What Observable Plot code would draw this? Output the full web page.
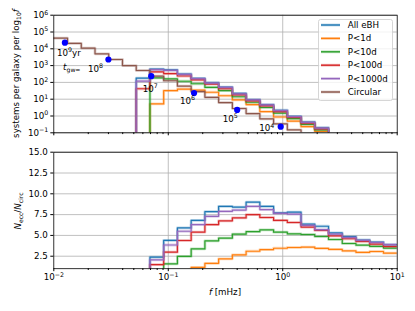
<!DOCTYPE html>
<html><head><meta charset="utf-8">
<script src="https://cdn.jsdelivr.net/npm/d3@7"></script>
<script src="https://cdn.jsdelivr.net/npm/@observablehq/plot@0.6"></script>
<style>
body{margin:0;background:#fff;font-family:"DejaVu Sans",sans-serif;}
#wrap{position:relative;width:415px;height:311px;overflow:hidden;}
#top,#bot,#legend{position:absolute;left:0;}
#top{top:0}
#bot{top:140px}
#legend{left:318px;top:19px;}
</style></head><body>
<div id="wrap"><div id="top"></div><div id="bot"></div><div id="legend"></div></div>
<script>
// ---- data ----
const series = ["All eBH","P<1d","P<10d","P<100d","P<1000d","Circular"];
const colors = ["#1f77b4","#ff7f0e","#2ca02c","#d62728","#9467bd","#8c564b"];
// 25 log bins of 0.12 dex from 1e-2 to 1e1 mHz (0 = empty bin)
const logFmin = -2, binDex = 0.12, nBins = 25;
// top panel: systems per galaxy per log10 f
const topAll   = [0,0,0,0,0,0,178,617,550,316,174,95,52,22,9.5,4.8,2.2,0.95,0.44,0.2,0.04,0,0,0,0];
const top1d    = [0,0,0,0,0,0,0,5.2,32,40,35,26,16,9.1,4.8,1.8,0.87,0.5,0.23,0.12,0.03,0,0,0,0];
const top10d   = [0,0,0,0,0,0,0,186,162,117,83,50,32,14,6.6,3.2,1.5,0.69,0.32,0.15,0.035,0,0,0,0];
const top100d  = [0,0,0,0,0,0,42,420,330,240,140,79,42,18,7.9,4.0,1.8,0.83,0.38,0.17,0.04,0,0,0,0];
const top1000d = [0,0,0,0,0,0,120,575,525,300,166,91,50,21,9.1,4.6,2.1,0.91,0.42,0.19,0.04,0,0,0,0];
const topCirc  = [4.3e4,2.1e4,1.1e4,5.0e3,2.3e3,1.0e3,510,234,125,60,28,13,6.3,2.8,1.4,0.68,0.34,0.15,0.07,0,0,0,0,0,0];
// bottom panel: N_ecc / N_circ
const ratAll   = [0,0,0,0,0,0,0,2.4,4.4,5.9,6.8,7.85,8.5,8.4,9.0,8.5,7.7,7.8,6.35,6.1,5.3,4.85,4.45,4.2,3.9];
const rat1d    = [0,0,0,0,0,0,0,0,0,0,1.15,1.65,2.19,2.67,3.1,3.3,3.46,3.55,3.59,3.45,3.33,3.15,2.95,3.07,2.87];
const rat10d   = [0,0,0,0,0,0,0,0.8,1.58,2.47,3.38,4.35,4.67,5.15,5.45,5.67,5.39,5.19,5.11,4.87,4.51,4.03,3.83,3.68,3.48];
const rat100d  = [0,0,0,0,0,0,0,1.5,2.98,4.39,5.39,6.3,6.75,7.1,7.5,7.15,6.8,6.55,6.0,5.6,4.95,4.6,4.27,3.95,3.67];
const rat1000d = [0,0,0,0,0,0,0,2.06,3.85,5.5,6.3,7.3,7.9,8.05,8.5,8.1,7.65,7.55,6.2,5.7,5.15,4.75,4.4,4.15,3.9];
// gravitational-wave time markers
const tgwLabels = ["10⁹yr","10⁸","10⁷","10⁶","10⁵","10⁴"];
const tgwF = [0.0125,0.030,0.071,0.168,0.40,0.96];
const tgwN = [2.3e4,2.3e3,234,23,2.3,0.23];
// ticks
const xMajor = [1e-2,1e-1,1,10];
const yTopTicks = [1e-1,1,10,100,1e3,1e4,1e5,1e6];
const yBotTicks = [2.5,5,7.5,10,12.5,15];

// ---- helpers ----
const edges = d3.range(nBins+1).map(k => 10 ** (logFmin + binDex*k));
const xMinor = [1e-2,1e-1,1].flatMap(d => d3.range(2,10).map(k => k*d));
const supMap = {"-":"⁻","0":"⁰","1":"¹","2":"²","3":"³","4":"⁴","5":"⁵","6":"⁶","7":"⁷","8":"⁸","9":"⁹"};
const unsup = {}; Object.entries(supMap).forEach(([k,v]) => unsup[v] = (k === "-" ? "−" : k));
const sup = d => "10" + String(Math.round(Math.log10(d))).split("").map(c => supMap[c]).join("");
function steps(vals, floor){
  return vals.flatMap((v,k) => {const y = Math.max(v, floor); return [{x:edges[k], y},{x:edges[k+1], y}];});
}
function stepMarks(list, floor){
  return list.flatMap(([vals, c]) => [
    Plot.line(steps(vals, floor), {x:"x", y:"y", stroke:c, strokeWidth:2.8, strokeOpacity:0.3, clip:true}),
    Plot.line(steps(vals, floor), {x:"x", y:"y", stroke:c, strokeWidth:1.2, clip:true})
  ]);
}
const gridStyle = {stroke:"#b0b0b0", strokeOpacity:1, strokeWidth:0.8};
const FS = 8.7;
const labelOffsets = [[4,10],[-13,9.3],[-1,12.6],[-6.5,8],[-7,9],[-14,1.7]];

// ---- top panel ----
const topSeries = [[topAll,colors[0]],[top1d,colors[1]],[top10d,colors[2]],[top100d,colors[3]],[top1000d,colors[4]],[topCirc,colors[5]]];
const tgw = tgwF.map((f,i) => ({f, n:tgwN[i], label:tgwLabels[i]}));
const topPlot = Plot.plot({
  width:415, height:140,
  marginLeft:53.3, marginRight:18.3, marginTop:14.7, marginBottom:7.7,
  style:{fontFamily:"DejaVu Sans", fontSize:FS+"px", color:"#000", background:"transparent"},
  x:{type:"log", domain:[1e-2,10]},
  y:{type:"log", domain:[1e-1,1e6]},
  marks:[
    Plot.gridY(yTopTicks, gridStyle),
    Plot.gridX([1e-1,1], gridStyle),
    ...stepMarks(topSeries, 1e-3),
    Plot.dot(tgw, {x:"f", y:"n", r:3.1, fill:"#0000ff"}),
    ...tgw.map((d,i) => Plot.text([d], {x:"f", y:"n", text:"label", dx:labelOffsets[i][0], dy:labelOffsets[i][1], fontSize:FS, fill:"#000"})),
    Plot.frame({stroke:"#000", strokeWidth:0.8}),
    Plot.axisY({ticks:yTopTicks, tickFormat:sup, tickSize:3, tickPadding:2.5, label:null}),
    Plot.axisX({ticks:xMajor, tickFormat:() => "", tickSize:3, label:null}),
    Plot.axisX({ticks:xMinor, tickFormat:() => "", tickSize:1.8, label:null})
  ]
});
document.getElementById("top").append(topPlot);

// ---- bottom panel ----
const botSeries = [[ratAll,colors[0]],[rat1d,colors[1]],[rat10d,colors[2]],[rat100d,colors[3]],[rat1000d,colors[4]]];
const botPlot = Plot.plot({
  width:415, height:171,
  marginLeft:53.3, marginRight:18.3, marginTop:11.7, marginBottom:42.8,
  style:{fontFamily:"DejaVu Sans", fontSize:FS+"px", color:"#000", background:"transparent"},
  x:{type:"log", domain:[1e-2,10]},
  y:{domain:[1,15]},
  marks:[
    Plot.gridY(yBotTicks, gridStyle),
    Plot.gridX([1e-1,1], gridStyle),
    ...stepMarks(botSeries, 0),
    Plot.frame({stroke:"#000", strokeWidth:0.8}),
    Plot.axisY({ticks:yBotTicks, tickFormat:d3.format(".1f"), tickSize:3, tickPadding:3, label:null}),
    Plot.axisX({ticks:xMajor, tickFormat:sup, tickSize:3, tickPadding:2.5, label:null}),
    Plot.axisX({ticks:xMinor, tickFormat:() => "", tickSize:1.8, label:null})
  ]
});
document.getElementById("bot").append(botPlot);

// ---- render superscripts like mathtext (10^{n}) ----
const supRe = /^10([⁻⁰¹²³⁴⁵⁶⁷⁸⁹]+)(.*)$/;
[topPlot, botPlot].forEach(svg => {
  svg.querySelectorAll("text").forEach(t => {
    if (t.children.length) return;
    const m = (t.textContent || "").match(supRe);
    if (!m) return;
    const e = m[1].split("").map(c => unsup[c]).join("");
    const sel = d3.select(t);
    sel.text(null);
    sel.append("tspan").text("10");
    sel.append("tspan").attr("font-size", (FS*0.72).toFixed(2)).attr("dy","-0.55em").text(e);
    if (m[2]) sel.append("tspan").attr("dy", (FS*0.72*0.55).toFixed(2)).text(m[2]);
  });
});

// ---- extra labels ----
const ts = d3.select(topPlot);
const sx = topPlot.scale("x"), sy = topPlot.scale("y");
const tg = ts.append("text").attr("x", sx.apply(tgwF[0]) + 7.4).attr("y", sy.apply(tgwN[0]) + 27.5)
  .attr("text-anchor","middle").attr("font-size",FS).attr("font-family","DejaVu Sans");
tg.append("tspan").attr("font-style","italic").text("t");
tg.append("tspan").attr("font-size",FS*0.7).attr("dy",2).text("gw=");

const yl = ts.append("text").attr("transform","translate(18.5,73.5) rotate(-90)")
  .attr("text-anchor","middle").attr("font-size",FS).attr("font-family","DejaVu Sans");
yl.append("tspan").text("systems per galaxy per log");
yl.append("tspan").attr("font-size",FS*0.7).attr("dy",2).text("10");
yl.append("tspan").attr("font-style","italic").attr("dy",-2).text("f");

const bs = d3.select(botPlot);
const yl2 = bs.append("text").attr("transform","translate(21,71) rotate(-90)")
  .attr("text-anchor","middle").attr("font-size",FS).attr("font-family","DejaVu Sans");
yl2.append("tspan").attr("font-style","italic").text("N");
yl2.append("tspan").attr("font-size",FS*0.7).attr("dy",2).text("ecc");
yl2.append("tspan").attr("dy",-2).text("/");
yl2.append("tspan").attr("font-style","italic").text("N");
yl2.append("tspan").attr("font-size",FS*0.7).attr("dy",2).text("circ");

const xl = bs.append("text").attr("x",225).attr("y",155).attr("text-anchor","middle")
  .attr("font-size",FS).attr("font-family","DejaVu Sans");
xl.append("tspan").attr("font-style","italic").text("f");
xl.append("tspan").text(" [mHz]");

// ---- legend ----
const lw = 75, lh = 82;
const lg = d3.select("#legend").append("svg").attr("width",lw).attr("height",lh);
lg.append("rect").attr("x",0.5).attr("y",0.5).attr("width",lw-1).attr("height",lh-1).attr("rx",2)
  .attr("fill","#fff").attr("fill-opacity",0.8).attr("stroke","#cccccc").attr("stroke-width",0.8);
series.forEach((s,i) => {
  const y = 6 + i*13.4;
  lg.append("line").attr("x1",3).attr("x2",22).attr("y1",y).attr("y2",y).attr("stroke",colors[i]).attr("stroke-width",2.8).attr("stroke-opacity",0.3);
  lg.append("line").attr("x1",3).attr("x2",22).attr("y1",y).attr("y2",y).attr("stroke",colors[i]).attr("stroke-width",1.4);
  lg.append("text").attr("x",29.7).attr("y",y).attr("dy","0.35em").attr("font-size",FS).attr("font-family","DejaVu Sans").text(s);
});
</script>
</body></html>
